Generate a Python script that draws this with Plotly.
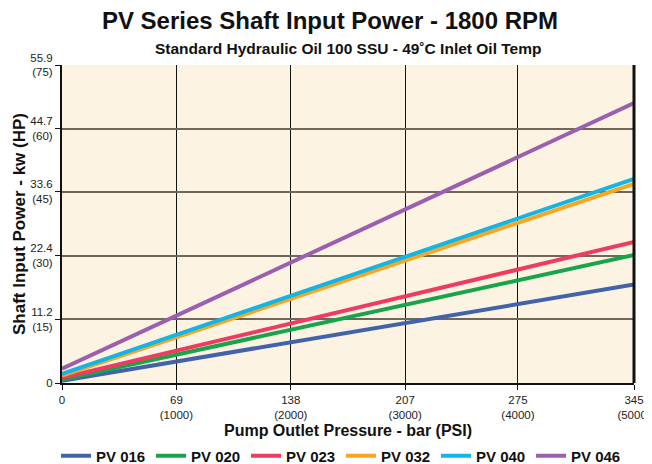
import plotly.graph_objects as go

pressure_bar = [0, 345]
series_names = ["PV 016", "PV 020", "PV 023", "PV 032", "PV 040", "PV 046"]
pv016 = [0.4, 17.3]
pv020 = [0.6, 22.5]
pv023 = [0.9, 24.8]
pv032 = [1.3, 35.0]
pv040 = [1.6, 35.9]
pv046 = [2.5, 49.2]
series_values = [pv016, pv020, pv023, pv032, pv040, pv046]
colors = ["#4262ab", "#17a44b", "#ee3b5f", "#f8a61f", "#12b5e5", "#9b5fae"]

x_ticks = [0, 69, 138, 207, 275, 345]
x_labels = ["0", "69<br>(1000)", "138<br>(2000)", "207<br>(3000)", "275<br>(4000)", "345<br>(5000)"]
y_ticks = [0, 11.2, 22.4, 33.6, 44.7, 55.9]
y_labels = ["0", "11.2<br>(15)", "22.4<br>(30)", "33.6<br>(45)", "44.7<br>(60)", "55.9<br>(75)"]

# page has an 8px body margin, so the figure is 8px smaller and offset
W, H = 644, 456

fig = go.Figure()
for name, vals, c in zip(series_names, series_values, colors):
    fig.add_trace(go.Scatter(x=pressure_bar, y=vals, mode="lines", name=name,
                             line=dict(color=c, width=4)))

tick_font = dict(family="Liberation Sans Narrow, Liberation Sans, Arial", size=11.5, color="#222")
fig.update_layout(
    width=W, height=H,
    margin=dict(l=54, r=18, t=57, b=81, autoexpand=False),
    paper_bgcolor="white",
    plot_bgcolor="#fdf3e2",
    title=dict(text="<b>PV Series Shaft Input Power - 1800 RPM</b>", x=0.5, xanchor="center",
               y=1 - 13 / H, yanchor="middle",
               font=dict(family="Liberation Sans, Arial", size=24, color="#111")),
    annotations=[dict(text="<b>Standard Hydraulic Oil 100 SSU - 49˚C Inlet Oil Temp</b>",
                      xref="paper", yref="paper", x=0.5, y=1.0, yshift=17, xanchor="center",
                      yanchor="middle", showarrow=False,
                      font=dict(family="Liberation Sans, Arial", size=15.5, color="#111"))],
    showlegend=True,
    legend=dict(orientation="h", xref="container", yref="container",
                x=48 / W, xanchor="left", y=1 - 448 / H, yanchor="middle",
                font=dict(family="Liberation Sans, Arial", size=15, color="#111", weight="bold"),
                bgcolor="rgba(0,0,0,0)", itemwidth=30, tracegroupgap=0,
                entrywidth=50, entrywidthmode="pixels"),
)
fig.update_xaxes(range=[0, 345], tickvals=x_ticks, ticktext=x_labels,
                 showgrid=True, gridcolor="#111", gridwidth=1.3,
                 showline=True, linecolor="#111", linewidth=2, mirror=False,
                 ticks="outside", ticklen=5, tickcolor="#111", tickfont=tick_font,
                 ticklabeloverflow="allow",
                 zeroline=False, automargin=False,
                 title=dict(text="<b>Pump Outlet Pressure - bar (PSI)</b>", standoff=17,
                            font=dict(family="Liberation Sans, Arial", size=16, color="#111")))
fig.update_yaxes(range=[0, 55.9], tickvals=y_ticks, ticktext=y_labels,
                 showgrid=True, gridcolor="#6e675a", gridwidth=2,
                 showline=True, linecolor="#111", linewidth=2,
                 ticks="outside", ticklen=5, tickcolor="#111", tickfont=tick_font,
                 zeroline=False, automargin=False,
                 title=dict(text="<b>Shaft Input Power - kw (HP)</b>", standoff=0,
                            font=dict(family="Liberation Sans, Arial", size=17, color="#111")))
# right border
fig.add_shape(type="line", xref="paper", yref="paper", x0=1, x1=1, y0=0, y1=1,
              line=dict(color="#111", width=3))

fig.write_html("out.html")
